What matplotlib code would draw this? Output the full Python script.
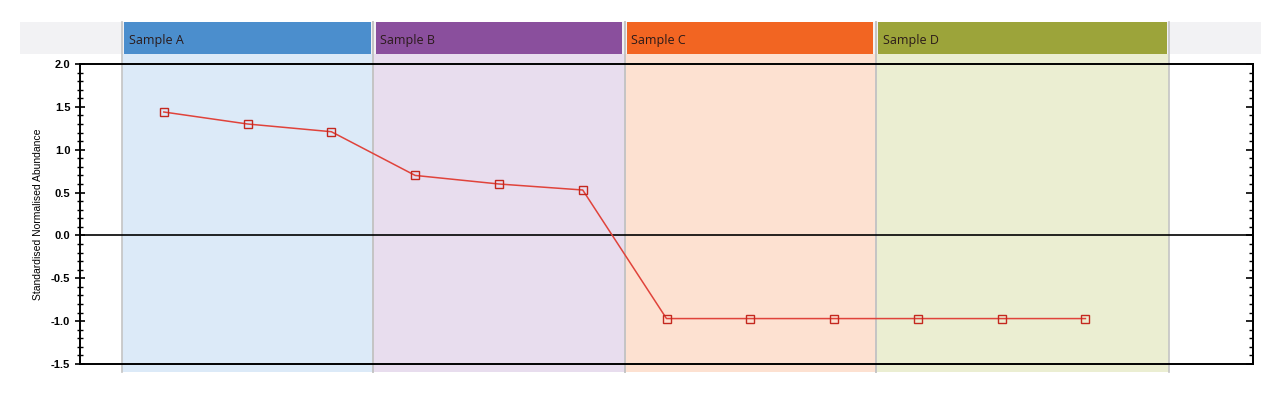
import matplotlib.pyplot as plt
import matplotlib.transforms as mtransforms
from matplotlib.patches import Rectangle
from matplotlib.ticker import MultipleLocator

# data
samples = ['Sample A', 'Sample B', 'Sample C', 'Sample D']
points_per_sample = [3, 3, 3, 3]
values = [1.44, 1.30, 1.21,
          0.70, 0.60, 0.53,
          -0.97, -0.97, -0.97,
          -0.97, -0.97, -0.97]

header_colors = ['#4b8ecd', '#8a4f9d', '#f26522', '#9ca43a']
band_colors = ['#dceaf8', '#e8ddee', '#fde1d1', '#ebeed2']

plt.rcParams['font.family'] = ['Liberation Sans', 'DejaVu Sans']

fig = plt.figure(figsize=(12.8, 3.95), dpi=100)
ax = fig.add_axes([80 / 1280, 31 / 395, 1173 / 1280, 300 / 395])

x = list(range(len(values)))
ax.set_xlim(-1, 13)
ax.set_ylim(-1.5, 2.0)

blend = mtransforms.blended_transform_factory(ax.transData, ax.transAxes)

# grey header strip behind the sample headers
ax.add_patch(Rectangle((-0.051, 1.033), 1.058, 0.107, transform=ax.transAxes,
                       facecolor='#f2f2f4', edgecolor='none', clip_on=False, zorder=0))

start = -0.5
for i, (name, n) in enumerate(zip(samples, points_per_sample)):
    width = n + (0.5 if i == len(samples) - 1 else 0)
    # background band
    ax.add_patch(Rectangle((start, -0.027), width, 1.06, transform=blend,
                           facecolor=band_colors[i], edgecolor='none',
                           clip_on=False, zorder=0.5))
    # separator lines
    for xe in (start, start + width):
        ax.plot([xe, xe], [-0.027, 1.14], transform=blend, color='#c4c4c4',
                lw=1.2, clip_on=False, zorder=0.6)
    # header
    ax.add_patch(Rectangle((start + 0.03, 1.033), width - 0.06, 0.107, transform=blend,
                           facecolor=header_colors[i], edgecolor='none',
                           clip_on=False, zorder=1))
    ax.text(start + 0.08, 1.078, name, transform=blend, fontsize=9,
            color='#2a1a1a', va='center', ha='left', family=['Open Sans', 'DejaVu Sans'],
            clip_on=False, zorder=2)
    start += width

ax.axhline(0, color='black', lw=1.2, zorder=1.5)

ax.plot(x, values, color='#e0433b', lw=1.1, marker='s', markersize=5.2,
        markerfacecolor='none', markeredgecolor='#c4281f', markeredgewidth=1,
        zorder=3)

ax.set_ylabel('Standardised Normalised Abundance', fontsize=7.5, labelpad=6)
ax.yaxis.set_major_locator(MultipleLocator(0.5))
ax.yaxis.set_minor_locator(MultipleLocator(0.1))
ax.yaxis.set_major_formatter(plt.FormatStrFormatter('%.1f'))
ax.tick_params(axis='y', which='major', direction='inout', length=7, width=1.2,
               labelsize=8)
ax.tick_params(axis='y', which='minor', direction='inout', length=5, width=1)
ax.tick_params(axis='x', bottom=False, labelbottom=False)
for lbl in ax.get_yticklabels():
    lbl.set_fontweight('bold')

# right-hand ticks point inward only
sec = ax.secondary_yaxis('right')
sec.yaxis.set_major_locator(MultipleLocator(0.5))
sec.yaxis.set_minor_locator(MultipleLocator(0.1))
sec.tick_params(which='major', direction='in', length=5, width=1.2, labelright=False)
sec.tick_params(which='minor', direction='in', length=3, width=1)
sec.spines['right'].set_linewidth(1.4)

for s in ax.spines.values():
    s.set_linewidth(1.4)
    s.set_zorder(4)

fig.savefig('out.png', dpi=100)
